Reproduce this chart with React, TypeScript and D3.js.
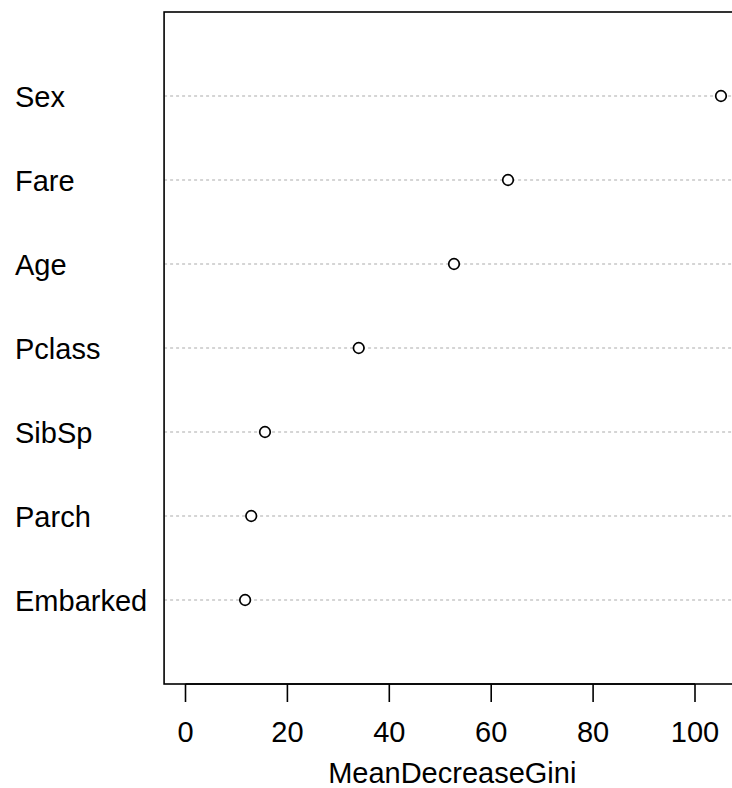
import React from 'react';
import * as d3 from 'd3';

// variable importance, top to bottom as drawn
const variables = ['Sex', 'Fare', 'Age', 'Pclass', 'SibSp', 'Parch', 'Embarked'];
const giniValues = [105.1, 63.3, 52.7, 34.0, 15.6, 12.9, 11.7];
const xTicks = [0, 20, 40, 60, 80, 100];

const W = 732;
const H = 788;
const FONT = '"Liberation Sans", Arial, sans-serif';

const App: React.FC = () => {
  const maxVal = d3.max(giniValues) ?? 0;
  // R-style 4% extension around [0, max]
  const xlim: [number, number] = [-0.04 * maxVal, maxVal * 1.04];

  const x = d3.scaleLinear().domain([0, 100]).range([185.5, 695]);
  const n = variables.length;
  const y = d3.scaleLinear().domain([0, n + 1]).range([684, 12]);

  const left = x(xlim[0]);
  const right = x(xlim[1]);
  const top = y(n + 1);
  const bottom = y(0);

  return (
    <svg width={W} height={H} style={{ position: 'absolute', left: 0, top: 0, background: '#fff' }}
      fontFamily={FONT}>
      {/* dotted guide lines */}
      {variables.map((v, i) => (
        <line key={'g' + v} x1={left} x2={right} y1={y(n - i)} y2={y(n - i)}
          stroke="#c8c8c8" strokeWidth={1.5} strokeDasharray="3,3" />
      ))}

      {/* points */}
      {giniValues.map((val, i) => (
        <circle key={'p' + i} cx={x(val)} cy={y(n - i)} r={5.3} fill="#fff"
          stroke="#000" strokeWidth={1.7} />
      ))}

      {/* row labels */}
      {variables.map((v, i) => (
        <text key={'l' + v} x={15} y={y(n - i) + 10.5} fontSize={29} fill="#000">{v}</text>
      ))}

      {/* box */}
      <rect x={left} y={top} width={right - left} height={bottom - top}
        fill="none" stroke="#000" strokeWidth={1.6} />

      {/* x axis */}
      <line x1={x(xTicks[0])} x2={x(xTicks[xTicks.length - 1])} y1={bottom} y2={bottom}
        stroke="#000" strokeWidth={1.6} />
      {xTicks.map(t => (
        <g key={'t' + t}>
          <line x1={x(t)} x2={x(t)} y1={bottom} y2={bottom + 18} stroke="#000" strokeWidth={1.6} />
          <text x={x(t)} y={742} textAnchor="middle" fontSize={29} fill="#000">{t}</text>
        </g>
      ))}

      <text x={(left + right) / 2 - 1} y={783} textAnchor="middle" fontSize={29} fill="#000">
        MeanDecreaseGini
      </text>
    </svg>
  );
};

export default App;
